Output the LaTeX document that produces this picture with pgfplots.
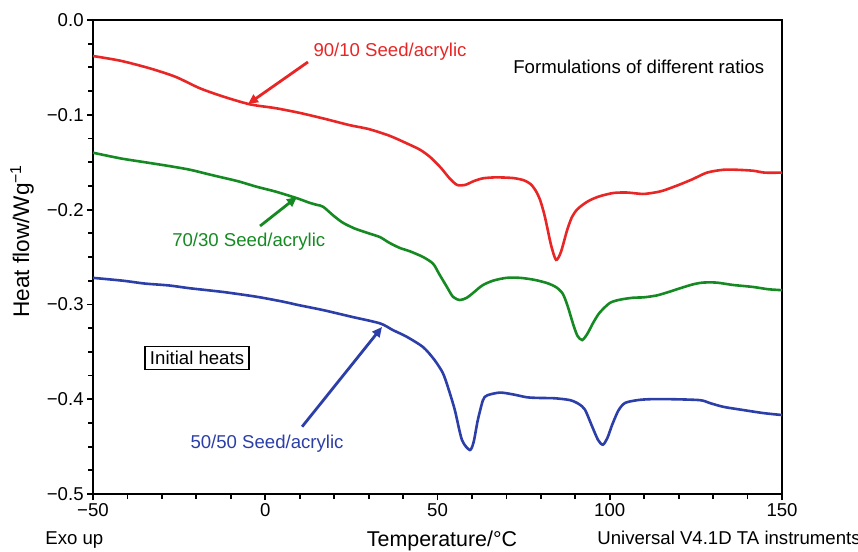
\documentclass[border=0pt]{standalone}
\usepackage{fontspec}
\setmainfont{Liberation Sans}
\usepackage{pgfplots}
\pgfplotsset{compat=1.18}
\usetikzlibrary{arrows.meta}

\definecolor{cred}{RGB}{232,38,38}
\definecolor{cgreen}{RGB}{22,138,34}
\definecolor{cblue}{RGB}{44,62,168}

\begin{document}
\begin{tikzpicture}
\fontsize{9.3}{11}\selectfont
\begin{axis}[
    scale only axis, width=344.5pt, height=237pt,
    xmin=-50, xmax=150, ymin=-0.5, ymax=0,
    axis line style={line width=0.9pt},
    xtick={-50,0,50,100,150},
    xticklabels={−50,0,50,100,150},
    ytick={-0.5,-0.4,-0.3,-0.2,-0.1,0},
    yticklabels={−0.5,−0.4,−0.3,−0.2,−0.1,0.0},
    minor x tick num=4, minor y tick num=3,
    tick align=outside, xtick pos=bottom, ytick pos=left,
    major tick length=3pt, minor tick length=2.5pt,
    tick style={line width=0.9pt, black},
    ticklabel style={font=\fontsize{9.3}{11}\selectfont},
    yticklabel style={inner sep=1.5pt},
    xticklabel style={inner sep=1.5pt},
    every axis plot/.append style={line width=1.3pt, mark=none, smooth, tension=0.45},
    clip=false,
]
\coordinate (sw) at (rel axis cs:0,0);
\coordinate (ne) at (rel axis cs:1,1);

% 90/10
\addplot[cred] coordinates {
(-50,-0.038) (-42,-0.043) (-33.5,-0.051) (-26,-0.060) (-19,-0.072) (-12,-0.081)
(-4.4,-0.089) (3,-0.093) (10,-0.098) (17,-0.104) (24.6,-0.111) (30,-0.115)
(36,-0.122) (41,-0.130) (45,-0.137) (48,-0.145) (51,-0.156) (53.5,-0.167)
(55.7,-0.174) (58,-0.174) (60.5,-0.170) (63.2,-0.167) (67,-0.166) (71.9,-0.1667)
(75,-0.169) (77,-0.173) (78.5,-0.180) (79.8,-0.190) (81,-0.205) (81.8,-0.218)
(83,-0.238) (84.4,-0.253) (85.8,-0.245) (87.6,-0.222) (89,-0.208) (90.5,-0.200)
(92.5,-0.194) (94.3,-0.190) (97,-0.186) (101,-0.1825) (105,-0.182) (109.6,-0.1835)
(113,-0.182) (115.5,-0.180) (120,-0.174) (124,-0.168) (128.2,-0.161) (132.9,-0.158)
(137,-0.158) (141.6,-0.159) (145,-0.161) (150,-0.161)
};

% 70/30
\addplot[cgreen] coordinates {
(-50,-0.140) (-42,-0.146) (-35,-0.150) (-28,-0.154) (-21.8,-0.158) (-15,-0.164)
(-8,-0.170) (-2.4,-0.176) (3,-0.181) (9.2,-0.188) (13,-0.193) (15,-0.195)
(16.8,-0.197) (20,-0.207) (22.6,-0.214) (26,-0.220) (30,-0.225) (33.3,-0.229)
(36,-0.235) (39.1,-0.2405) (42,-0.244) (45.8,-0.250) (48.7,-0.257) (50.5,-0.268)
(52.8,-0.282) (54.5,-0.292) (56.5,-0.2954) (58.5,-0.293) (60.3,-0.288) (63,-0.280)
(66.1,-0.275) (70,-0.272) (74,-0.272) (78,-0.274) (81.8,-0.2775) (84.5,-0.282)
(86.4,-0.289) (87.8,-0.302) (89.3,-0.320) (90.6,-0.333) (92,-0.3376) (93.5,-0.331)
(95.1,-0.320) (97,-0.309) (100,-0.2985) (103,-0.295) (106.7,-0.293) (110,-0.2925)
(113.7,-0.2905) (117,-0.287) (120.4,-0.283) (124,-0.279) (127,-0.277) (131,-0.277)
(135.8,-0.2795) (141.6,-0.2816) (146,-0.284) (150,-0.285)
};

% 50/50
\addplot[cblue] coordinates {
(-50,-0.272) (-41.3,-0.275) (-35,-0.278) (-28,-0.280) (-21.8,-0.283) (-12,-0.287)
(-2.4,-0.292) (5,-0.297) (10,-0.301) (16.8,-0.306) (25,-0.313) (33.3,-0.320)
(37,-0.327) (41,-0.334) (45.8,-0.345) (49,-0.358) (51.5,-0.372) (53,-0.387)
(55,-0.411) (57.1,-0.443) (59.4,-0.4536) (60.5,-0.445) (61.7,-0.422) (63.2,-0.401)
(64.4,-0.396) (68.1,-0.393) (72,-0.395) (76,-0.398) (79.7,-0.3987) (84,-0.399)
(88.5,-0.401) (91,-0.405) (92.8,-0.411) (94.8,-0.428) (96.6,-0.443) (98,-0.448)
(99.3,-0.441) (100.7,-0.427) (102.5,-0.412) (104.4,-0.404) (108,-0.401) (111.7,-0.400)
(118,-0.400) (126.2,-0.401) (129,-0.404) (132.9,-0.408) (138,-0.411) (144.5,-0.4146)
(150,-0.4167)
};

% annotations
\draw[cred, line width=1.4pt, -{Triangle[length=5pt,width=4.5pt]}] (axis cs:12.4,-0.0443) -- (axis cs:-5.0,-0.0886);
\draw[cgreen, line width=1.4pt, -{Triangle[length=5pt,width=4.5pt]}] (axis cs:-1.5,-0.2173) -- (axis cs:9.2,-0.1867);
\draw[cblue, line width=1.4pt, -{Triangle[length=5pt,width=4.5pt]}] (axis cs:10.7,-0.429) -- (axis cs:33.9,-0.3238);

\node[cred, anchor=west, inner sep=0pt] at (axis cs:13.9,-0.0338) {90/10 Seed/acrylic};
\node[cgreen, anchor=west, inner sep=0pt] at (axis cs:-27.1,-0.234) {70/30 Seed/acrylic};
\node[cblue, anchor=west, inner sep=0pt] at (axis cs:-21.8,-0.447) {50/50 Seed/acrylic};
\node[anchor=west, inner sep=0pt] at (axis cs:71.9,-0.0496) {Formulations of different ratios};
\node[draw, line width=0.6pt, inner sep=2.5pt] at (axis cs:-19.8,-0.3565) {Initial heats};
\end{axis}

\node[anchor=west, inner sep=0pt] at ([shift={(-24pt,-23pt)}]sw) {Exo up};
\node[anchor=base, inner sep=0pt, font=\fontsize{10.7}{12}\selectfont] at ([shift={(174.5pt,-26.2pt)}]sw) {Temperature/°C};
\node[anchor=west, inner sep=0pt] at ([shift={(252pt,-22pt)}]sw) {Universal V4.1D TA instruments};
\node[rotate=90, inner sep=0pt, font=\fontsize{11.3}{13}\selectfont] at ([shift={(-35.5pt,126.5pt)}]sw) {Heat flow/Wg\textsuperscript{−1}};

\pgfresetboundingbox
\path[use as bounding box] ([shift={(-46.5pt,-28.5pt)}]sw) rectangle ([shift={(38pt,10pt)}]ne);
\end{tikzpicture}
\end{document}
